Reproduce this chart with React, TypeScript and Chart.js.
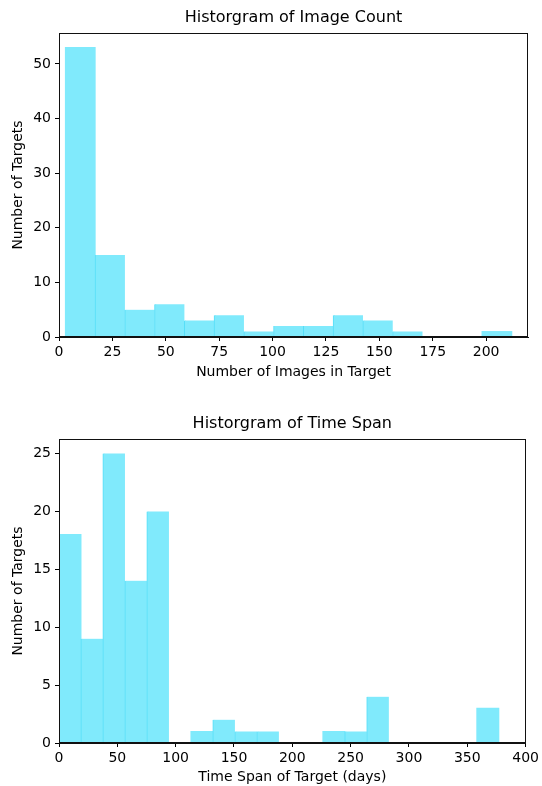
import React, { useEffect, useRef } from "react";
import { Chart, registerables } from "chart.js";

Chart.register(...registerables);

// ---- Data: Image count histogram (15 bins) ----
const imageBinEdges = [3, 16.93, 30.87, 44.8, 58.73, 72.67, 86.6, 100.53, 114.47, 128.4, 142.33, 156.27, 170.2, 184.13, 198.07, 212];
const imageCounts = [53, 15, 5, 6, 3, 4, 1, 2, 2, 4, 3, 1, 0, 0, 1];
const imageXTicks = [0, 25, 50, 75, 100, 125, 150, 175, 200];
const imageYTicks = [0, 10, 20, 30, 40, 50];

// ---- Data: Time span histogram (20 bins) ----
const spanBinEdges = [0, 18.85, 37.7, 56.55, 75.4, 94.25, 113.1, 131.95, 150.8, 169.65, 188.5, 207.35, 226.2, 245.05, 263.9, 282.75, 301.6, 320.45, 339.3, 358.15, 377];
const spanCounts = [18, 9, 25, 14, 20, 0, 1, 2, 1, 1, 0, 0, 1, 1, 4, 0, 0, 0, 0, 3];
const spanXTicks = [0, 50, 100, 150, 200, 250, 300, 350, 400];
const spanYTicks = [0, 5, 10, 15, 20, 25];

const FONT = "'DejaVu Sans', sans-serif";
const FILL = "#80EAFC";
const SEAM = "#55DEF8";
const TITLE_SIZE = 16;
const LABEL_SIZE = 14;

const framePlugin = {
  id: "frame",
  afterLayout(chart: any) {
    const tb = chart.titleBlock;
    if (tb) {
      tb.left = chart.chartArea.left;
      tb.right = chart.chartArea.right;
      tb.width = chart.chartArea.right - chart.chartArea.left;
    }
  },
  afterDatasetsDraw(chart: any) {
    const { ctx, chartArea } = chart;
    ctx.save();
    ctx.strokeStyle = "#111";
    ctx.lineWidth = 1;
    ctx.strokeRect(
      Math.round(chartArea.left) + 0.5,
      Math.round(chartArea.top) + 0.5,
      Math.round(chartArea.right - chartArea.left) - 1,
      Math.round(chartArea.bottom - chartArea.top) - 1
    );
    ctx.restore();
  },
};

type HistProps = {
  width: number;
  height: number;
  title: string;
  xLabel: string;
  yLabel: string;
  edges: number[];
  counts: number[];
  xTicks: number[];
  yTicks: number[];
  xMax: number;
  yMax: number;
  titlePad: { top: number; bottom: number };
  xAxisHeight: number;
  xTitlePad: number;
};

function Histogram(p: HistProps) {
  const ref = useRef<HTMLCanvasElement | null>(null);
  useEffect(() => {
    if (!ref.current) return;
    const points = p.counts.map((c, i) => ({
      x: (p.edges[i] + p.edges[i + 1]) / 2,
      y: c,
    }));
    const chart = new Chart(ref.current, {
      type: "bar",
      data: {
        datasets: [
          {
            data: points as any,
            backgroundColor: FILL,
            borderColor: SEAM,
            borderWidth: (ctx: any) => {
              const i = ctx.dataIndex;
              return i > 0 && p.counts[i - 1] > 0 && p.counts[i] > 0
                ? { left: 1, right: 0, top: 0, bottom: 0 }
                : 0;
            },
            borderSkipped: false,
            inflateAmount: 0.5,
            barPercentage: 1,
            categoryPercentage: 1,
            grouped: false,
          } as any,
        ],
      },
      options: {
        responsive: false,
        maintainAspectRatio: false,
        animation: false,
        devicePixelRatio: 1,
        layout: { padding: { left: 0, right: 14, top: 0, bottom: 0 } },
        plugins: {
          legend: { display: false },
          tooltip: { enabled: false },
          title: {
            display: true,
            text: p.title,
            color: "#000",
            font: { family: FONT, size: TITLE_SIZE, weight: "normal" as any },
            padding: p.titlePad,
          },
        },
        scales: {
          x: {
            type: "linear",
            min: 0,
            max: p.xMax,
            offset: false,
            afterBuildTicks: (s: any) => {
              s.ticks = p.xTicks.map((v) => ({ value: v }));
            },
            afterFit: (s: any) => {
              s.height = p.xAxisHeight;
            },
            grid: {
              offset: false,
              drawOnChartArea: false,
              drawTicks: true,
              tickLength: 4,
              tickColor: "#000",
              tickWidth: 1,
            },
            border: { display: true, color: "#111", width: 1 },
            ticks: {
              color: "#000",
              font: { family: FONT, size: LABEL_SIZE },
              padding: 3,
              maxRotation: 0,
              autoSkip: false,
            },
            title: {
              display: true,
              text: p.xLabel,
              color: "#000",
              font: { family: FONT, size: LABEL_SIZE },
              padding: { top: 0, bottom: p.xTitlePad },
            },
          },
          y: {
            type: "linear",
            min: 0,
            max: p.yMax,
            afterBuildTicks: (s: any) => {
              s.ticks = p.yTicks.map((v) => ({ value: v }));
            },
            afterFit: (s: any) => {
              s.width = 59;
            },
            grid: {
              drawOnChartArea: false,
              drawTicks: true,
              tickLength: 4,
              tickColor: "#000",
              tickWidth: 1,
            },
            border: { display: true, color: "#111", width: 1 },
            ticks: {
              color: "#000",
              font: { family: FONT, size: LABEL_SIZE },
              padding: 4,
              autoSkip: false,
            },
            title: {
              display: true,
              text: p.yLabel,
              color: "#000",
              font: { family: FONT, size: LABEL_SIZE },
              padding: { top: 9.5, bottom: 0 },
            },
          },
        },
      },
      plugins: [framePlugin],
    });
    return () => chart.destroy();
  }, []);
  return (
    <canvas
      ref={ref}
      width={p.width}
      height={p.height}
      style={{ display: "block", width: p.width, height: p.height }}
    />
  );
}

export default function App() {
  return (
    <div
      style={{
        position: "absolute",
        left: 0,
        top: 0,
        width: 542,
        height: 786,
        background: "#fff",
      }}
    >
      <Histogram
        width={542}
        height={393}
        title="Historgram of Image Count"
        xLabel="Number of Images in Target"
        yLabel="Number of Targets"
        edges={imageBinEdges}
        counts={imageCounts}
        xTicks={imageXTicks}
        yTicks={imageYTicks}
        xMax={219.6}
        yMax={55.65}
        titlePad={{ top: 8, bottom: 5.8 }}
        xAxisHeight={56}
        xTitlePad={12.5}
      />
      <Histogram
        width={542}
        height={393}
        title="Historgram of Time Span"
        xLabel="Time Span of Target (days)"
        yLabel="Number of Targets"
        edges={spanBinEdges}
        counts={spanCounts}
        xTicks={spanXTicks}
        yTicks={spanYTicks}
        xMax={400}
        yMax={26.25}
        titlePad={{ top: 21.5, bottom: 5.3 }}
        xAxisHeight={43}
        xTitlePad={0.5}
      />
    </div>
  );
}
